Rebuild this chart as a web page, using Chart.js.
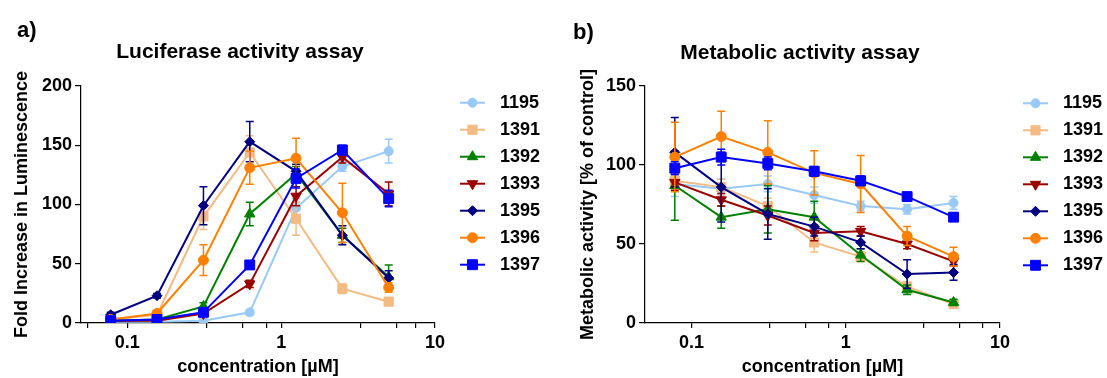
<!DOCTYPE html>
<html>
<head>
<meta charset="utf-8">
<script src="https://cdn.jsdelivr.net/npm/chart.js@4.4.0/dist/chart.umd.min.js"></script>
<style>
  html, body { margin: 0; padding: 0; background: #fff; }
  #wrap { position: relative; width: 1107px; height: 378px; }
  canvas { position: absolute; top: 0; }
</style>
</head>
<body>
<div id="wrap">
  <canvas id="lucChart" width="553" height="378" style="left:0"></canvas>
  <canvas id="metChart" width="554" height="378" style="left:553px"></canvas>
</div>
<script>
// ---- data ----
const concentrations = [0.078, 0.156, 0.3125, 0.625, 1.25, 2.5, 5];
const compounds = ['1195', '1391', '1392', '1393', '1395', '1396', '1397'];

const xTickValues = [0.1, 1, 10];
const xTickLabels = ['0.1', '1', '10'];
const xMinorLeft = [0.055, 0.33, 0.56, 0.8, 3.3, 5.6, 7.5];
const xMinorRight = [0.32, 0.55, 0.78, 3.2, 5.5, 7.7];

// a) luciferase: fold increase in luminescence (mean, error)
const luc1195 = [1, 1, 2, 9, 97, 132, 145];
const luc1391 = [3, 7, 90, 144, 88, 29, 18];
const luc1392 = [2, 3, 14, 92, 126, 74, 39];
const luc1393 = [2, 2, 8, 33, 107, 140, 109];
const luc1395 = [7, 23, 99, 153, 128, 74, 38];
const luc1396 = [3, 8, 53, 131, 139, 93, 30];
const luc1397 = [2, 3, 9, 49, 122, 146, 105];
const lucErr1195 = [0, 0, 1, 2, 8, 4, 10];
const lucErr1391 = [1, 2, 11, 14, 14, 4, 2];
const lucErr1392 = [1, 1, 3, 10, 6, 6, 10];
const lucErr1393 = [0, 1, 2, 3, 8, 5, 10];
const lucErr1395 = [2, 2, 16, 17, 6, 8, 6];
const lucErr1396 = [1, 2, 13, 14, 17, 25, 4];
const lucErr1397 = [1, 1, 2, 3, 8, 4, 7];

// b) metabolic activity [% of control] (mean, error)
const met1195 = [88, 85, 88, 81, 74, 72, 76];
const met1391 = [90, 86, 74, 51, 42, 23, 12];
const met1392 = [87, 67, 72, 67, 43, 21, 13];
const met1393 = [89, 78, 68, 57, 58, 50, 39];
const met1395 = [108, 86, 69, 61, 51, 31, 32];
const met1396 = [105, 118, 108, 95, 88, 55, 42];
const met1397 = [98, 105, 101, 96, 90, 80, 67];
const metErr1195 = [8, 6, 5, 5, 3, 3, 4];
const metErr1391 = [5, 5, 5, 6, 3, 3, 2];
const metErr1392 = [22, 7, 15, 10, 4, 3, 2];
const metErr1393 = [5, 4, 6, 5, 3, 3, 3];
const metErr1395 = [22, 22, 16, 6, 4, 9, 5];
const metErr1396 = [22, 16, 20, 14, 18, 6, 6];
const metErr1397 = [4, 5, 4, 3, 3, 2, 2];

// ---- styles ----
const seriesColors = ['#99c9f7', '#f3bb84', '#008000', '#990000', '#000080', '#ff8000', '#0000ff'];
const markers = [
  { style: 'circle', rot: 0, r: 4.5 },
  { style: 'rect', rot: 0, r: 6.5 },
  { style: 'triangle', rot: 0, r: 6 },
  { style: 'triangle', rot: 180, r: 6 },
  { style: 'rectRot', rot: 0, r: 5 },
  { style: 'circle', rot: 0, r: 5 },
  { style: 'rect', rot: 0, r: 7 }
];
const FONT = '"Liberation Sans", Arial, sans-serif';
Chart.defaults.font.family = FONT;
Chart.defaults.color = '#000';

// error bars drawn just before each dataset's line/markers
const errorBars = {
  id: 'errorBars',
  beforeDatasetDraw(chart, args) {
    const ds = chart.data.datasets[args.index];
    if (!ds.errors) return;
    const { ctx, scales: { x, y } } = chart;
    ctx.save();
    ctx.strokeStyle = ds.borderColor;
    ctx.lineWidth = 1.5;
    ds.data.forEach((p, i) => {
      const e = ds.errors[i];
      if (!e) return;
      const px = x.getPixelForValue(p.x);
      const top = y.getPixelForValue(p.y + e);
      const bot = y.getPixelForValue(Math.max(p.y - e, 0));
      ctx.beginPath();
      ctx.moveTo(px, top); ctx.lineTo(px, bot);
      ctx.moveTo(px - 4, top); ctx.lineTo(px + 4, top);
      ctx.moveTo(px - 4, bot); ctx.lineTo(px + 4, bot);
      ctx.stroke();
    });
    ctx.restore();
  }
};

// legend: line + marker + bold label, to the right of the plot
const sideLegend = {
  id: 'sideLegend',
  afterDraw(chart, args, opts) {
    const ctx = chart.ctx;
    chart.data.datasets.forEach((ds, i) => {
      const yy = opts.y + i * opts.step;
      ctx.save();
      ctx.strokeStyle = ds.borderColor;
      ctx.fillStyle = ds.borderColor;
      ctx.lineWidth = 2;
      ctx.beginPath();
      ctx.moveTo(opts.x, yy);
      ctx.lineTo(opts.x + 25, yy);
      ctx.stroke();
      ctx.lineWidth = 1;
      Chart.helpers.drawPoint(ctx, {
        pointStyle: ds.pointStyle, rotation: ds.pointRotation, radius: ds.pointRadius, borderWidth: 1
      }, opts.x + 12.5, yy);
      ctx.fillStyle = '#000';
      ctx.font = 'bold 18px ' + FONT;
      ctx.textBaseline = 'middle';
      ctx.textAlign = 'left';
      ctx.fillText(ds.label, opts.textX, yy);
      ctx.restore();
    });
  }
};

// panel tag and heading
const panelText = {
  id: 'panelText',
  afterDraw(chart, args, opts) {
    const ctx = chart.ctx;
    ctx.save();
    ctx.fillStyle = '#000';
    ctx.textBaseline = 'middle';
    ctx.font = 'bold 22px ' + FONT;
    ctx.textAlign = 'left';
    ctx.fillText(opts.tag, opts.tagX, opts.tagY);
    ctx.font = 'bold 21px ' + FONT;
    ctx.textAlign = 'center';
    ctx.fillText(opts.title, opts.titleX, opts.titleY);
    ctx.restore();
  }
};

function buildChart(id, cfg) {
  const allTicks = xTickValues.concat(cfg.minor).sort((a, b) => a - b);
  return new Chart(document.getElementById(id), {
    type: 'line',
    data: {
      datasets: compounds.map((name, i) => ({
        label: name,
        data: concentrations.map((c, j) => ({ x: c, y: cfg.means[i][j] })),
        errors: cfg.errors[i],
        borderColor: seriesColors[i],
        backgroundColor: seriesColors[i],
        pointStyle: markers[i].style,
        pointRotation: markers[i].rot,
        pointRadius: markers[i].r,
        pointHoverRadius: markers[i].r,
        pointBorderWidth: 1,
        borderWidth: 2,
        tension: 0,
        order: compounds.length - i
      }))
    },
    options: {
      responsive: false,
      animation: false,
      devicePixelRatio: 1,
      layout: { padding: { top: 86, left: 0, right: cfg.padRight, bottom: 0 } },
      plugins: {
        legend: { display: false },
        tooltip: { enabled: false },
        sideLegend: cfg.legend,
        panelText: cfg.text
      },
      scales: {
        x: {
          type: 'logarithmic',
          min: 0.05,
          max: 10,
          afterBuildTicks: s => { s.ticks = allTicks.map(v => ({ value: v })); },
          afterFit: s => { s.height = 55; },
          ticks: {
            autoSkip: false,
            maxRotation: 0,
            padding: 4,
            font: { size: 18, weight: 'bold' },
            callback: v => {
              const k = xTickValues.indexOf(v);
              return k >= 0 ? xTickLabels[k] : '';
            }
          },
          grid: { drawOnChartArea: false, tickLength: 5, color: '#000', lineWidth: 1.2 },
          border: { color: '#000', width: 1.2 },
          title: {
            display: true,
            text: 'concentration [µM]',
            font: { size: 18, weight: 'bold' },
            padding: { top: 0, bottom: 0 }
          }
        },
        y: {
          min: 0,
          max: cfg.yMax,
          afterFit: s => { s.width = cfg.yWidth; },
          ticks: { stepSize: 50, padding: 3, font: { size: 18, weight: 'bold' } },
          grid: { drawOnChartArea: false, tickLength: 6, color: '#000', lineWidth: 1.2 },
          border: { color: '#000', width: 1.2 },
          title: {
            display: true,
            text: cfg.yTitle,
            font: { size: 18, weight: 'bold' },
            padding: { top: cfg.yTitlePad, bottom: 0 }
          }
        }
      }
    },
    plugins: [errorBars, sideLegend, panelText]
  });
}

buildChart('lucChart', {
  means: [luc1195, luc1391, luc1392, luc1393, luc1395, luc1396, luc1397],
  errors: [lucErr1195, lucErr1391, lucErr1392, lucErr1393, lucErr1395, lucErr1396, lucErr1397],
  minor: xMinorLeft,
  yMax: 200,
  yWidth: 81,
  padRight: 118,
  yTitle: 'Fold Increase in Luminescence',
  yTitlePad: 11,
  legend: { x: 460, y: 102.7, step: 27, textX: 500 },
  text: { tag: 'a)', tagX: 17, tagY: 31, title: 'Luciferase activity assay', titleX: 240, titleY: 52 }
});

buildChart('metChart', {
  means: [met1195, met1391, met1392, met1393, met1395, met1396, met1397],
  errors: [metErr1195, metErr1391, metErr1392, metErr1393, metErr1395, metErr1396, metErr1397],
  minor: xMinorRight,
  yMax: 150,
  yWidth: 92,
  padRight: 107,
  yTitle: 'Metabolic activity [% of control]',
  yTitlePad: 24,
  legend: { x: 470, y: 103.3, step: 27, textX: 510 },
  text: { tag: 'b)', tagX: 20, tagY: 33, title: 'Metabolic activity assay', titleX: 247, titleY: 53 }
});
</script>
</body>
</html>
